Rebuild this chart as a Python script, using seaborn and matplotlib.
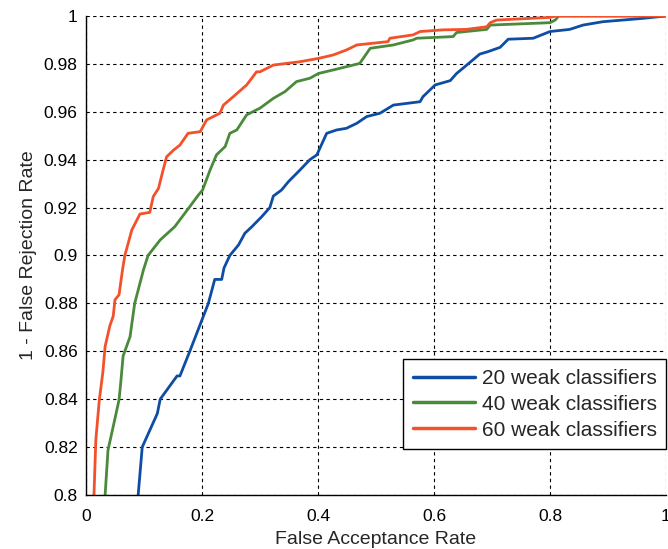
import numpy as np
import pandas as pd
import matplotlib
matplotlib.use("Agg")
import matplotlib.pyplot as plt
import seaborn as sns
from matplotlib.ticker import FuncFormatter
from matplotlib.lines import Line2D

labels = ["20 weak classifiers", "40 weak classifiers", "60 weak classifiers"]

far_20 = [0.090, 0.097, 0.123, 0.128, 0.157, 0.162, 0.179, 0.211, 0.222, 0.234, 0.238, 0.248,
          0.263, 0.274, 0.286, 0.303, 0.317, 0.323, 0.337, 0.349, 0.369, 0.386, 0.398, 0.415,
          0.432, 0.449, 0.467, 0.484, 0.507, 0.530, 0.576, 0.581, 0.602, 0.628, 0.639,
          0.653, 0.679, 0.693, 0.714, 0.728, 0.771, 0.800, 0.834, 0.857, 0.891, 0.960, 1.000]
tar_20 = [0.800, 0.820, 0.834, 0.840, 0.8497, 0.8497, 0.860, 0.880, 0.890, 0.890, 0.8948, 0.900,
          0.9044, 0.9093, 0.912, 0.9162, 0.920, 0.9248, 0.9273, 0.9308, 0.9357, 0.940, 0.942, 0.951,
          0.9524, 0.9531, 0.9552, 0.958, 0.9594, 0.9628, 0.9642, 0.9663, 0.9712, 0.973, 0.976,
          0.9788, 0.9841, 0.9851, 0.9869, 0.9903, 0.9907, 0.9935, 0.9944, 0.9962, 0.9976, 0.999, 1.000]

far_40 = [0.033, 0.038, 0.047, 0.057, 0.060, 0.064, 0.076, 0.084, 0.099, 0.107, 0.128, 0.153,
          0.179, 0.194, 0.201, 0.214, 0.225, 0.240, 0.248, 0.260, 0.277, 0.294, 0.300, 0.323,
          0.343, 0.363, 0.386, 0.401, 0.432, 0.472, 0.490, 0.530, 0.564, 0.570, 0.633, 0.639,
          0.691, 0.697, 0.800, 0.809, 0.815, 1.000]
tar_40 = [0.800, 0.8188, 0.8286, 0.8397, 0.847, 0.858, 0.8661, 0.880, 0.8939, 0.900, 0.9065, 0.912,
          0.9204, 0.9253, 0.9273, 0.9357, 0.942, 0.9455, 0.951, 0.9524, 0.9587, 0.9608, 0.9615, 0.9656,
          0.9684, 0.9726, 0.974, 0.976, 0.9778, 0.9802, 0.9865, 0.9879, 0.990, 0.9907, 0.9914, 0.9931,
          0.9944, 0.9962, 0.9972, 0.9983, 1.000, 1.000]

far_60 = [0.0138, 0.017, 0.023, 0.029, 0.033, 0.041, 0.047, 0.050, 0.057, 0.063, 0.067, 0.079,
          0.093, 0.110, 0.116, 0.125, 0.133, 0.139, 0.151, 0.162, 0.176, 0.197, 0.208, 0.231,
          0.237, 0.254, 0.277, 0.288, 0.294, 0.300, 0.323, 0.369, 0.401, 0.426, 0.449,
          0.467, 0.521, 0.524, 0.544, 0.564, 0.576, 0.616, 0.656, 0.691, 0.697, 0.708,
          0.800, 0.810, 1.000]
tar_60 = [0.800, 0.823, 0.8397, 0.851, 0.862, 0.8705, 0.8747, 0.8815, 0.8836, 0.894, 0.900, 0.9106,
          0.9173, 0.918, 0.9246, 0.928, 0.9357, 0.9412, 0.944, 0.9461, 0.951, 0.9517, 0.9566, 0.9594,
          0.9628, 0.9663, 0.9712, 0.9747, 0.9767, 0.9767, 0.9795, 0.9809, 0.9823, 0.9837, 0.9858,
          0.9879, 0.9893, 0.9907, 0.9914, 0.9921, 0.9935, 0.9942, 0.9944, 0.9955, 0.9972, 0.9983,
          0.9994, 1.000, 1.000]

colors = ["#0E4DA4", "#4A8A3B", "#F2512A"]

frames = []
for lab, fx, ty in zip(labels, [far_20, far_40, far_60], [tar_20, tar_40, tar_60]):
    frames.append(pd.DataFrame({"far": fx, "tar": ty, "series": lab}))
df = pd.concat(frames, ignore_index=True)

sns.set_style("white")
plt.rcParams["font.family"] = ["Liberation Sans", "DejaVu Sans"]

fig = plt.figure(figsize=(6.68, 5.49), dpi=100)
ax = fig.add_axes([0.1287, 0.0984, 0.8683, 0.8725])

sns.lineplot(data=df, x="far", y="tar", hue="series", palette=colors, hue_order=labels,
             units="series", estimator=None, sort=False, linewidth=2.0, ax=ax, legend=False)

ax.set_xlim(0, 1)
ax.set_ylim(0.8, 1.0)
ax.set_xticks(np.arange(0, 1.01, 0.2))
ax.set_yticks(np.arange(0.8, 1.001, 0.02))
fmt = FuncFormatter(lambda v, p: ("%g" % round(v, 2)))
ax.xaxis.set_major_formatter(fmt)
ax.yaxis.set_major_formatter(fmt)
ax.grid(True, color="black", linestyle=(0, (3, 3)), linewidth=0.8)
ax.set_axisbelow(True)
for s in ["top", "right"]:
    ax.spines[s].set_visible(False)
for s in ["left", "bottom"]:
    ax.spines[s].set_color("black")
    ax.spines[s].set_linewidth(1.0)
ax.tick_params(axis="both", direction="in", length=4, labelsize=12.5, colors="black")
ax.tick_params(axis="x", pad=10)
ax.tick_params(axis="y", pad=6)
ax.set_xlabel("False Acceptance Rate", fontsize=14, labelpad=5)
ax.set_ylabel("1 - False Rejection Rate", fontsize=14, labelpad=5)

handles = [Line2D([], [], color=c, linewidth=2.5) for c in colors]
leg = ax.legend(handles, labels, loc="lower right", bbox_to_anchor=(1.0, 0.096), fontsize=15,
                frameon=True, fancybox=False, edgecolor="black", framealpha=1,
                handlelength=3.0, handletextpad=0.3, borderpad=0.45, labelspacing=0.33,
                borderaxespad=0.0)
leg.get_frame().set_linewidth(1.0)

fig.savefig("out.png", dpi=100)
